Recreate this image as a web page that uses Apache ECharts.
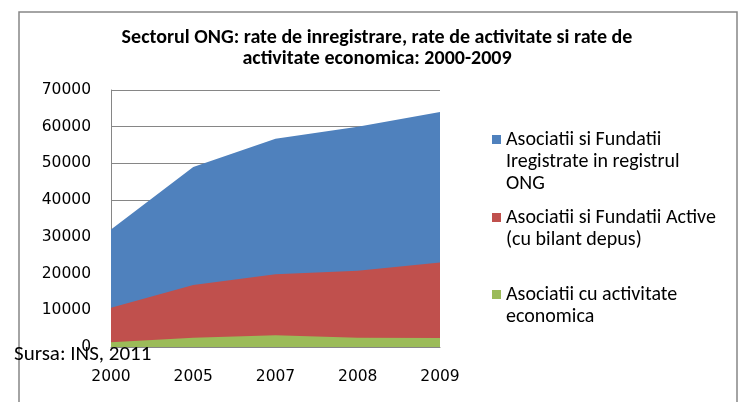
<!DOCTYPE html>
<html>
<head>
<meta charset="utf-8">
<script src="https://cdn.jsdelivr.net/npm/echarts@6/dist/echarts.min.js"></script>
<style>
html, body { margin: 0; padding: 0; background: #fff; }
#main { width: 739px; height: 402px; }
</style>
</head>
<body>
<div id="main"></div>
<script>
// date
var ani = ['2000', '2005', '2007', '2008', '2009'];
var inregistrate = [32000, 49000, 56700, 60000, 64000];
var active = [10700, 16900, 19800, 20800, 23000];
var economice = [1300, 2500, 3200, 2500, 2450];
var numeSerii = [
    'Asociatii si Fundatii\nIregistrate in registrul\nONG',
    'Asociatii si Fundatii Active\n(cu bilant depus)',
    'Asociatii cu activitate\neconomica'
];
var culori = ['#4F81BD', '#C0504D', '#9BBB59'];

var myChart = echarts.init(document.getElementById('main'));

var fontText = 'Carlito, "Liberation Sans", sans-serif';
var fontAxa = '"DejaVu Sans", sans-serif';
var lh = 22;

// o legenda pentru fiecare serie, ca patratul sa stea langa primul rand
function legenda(i, top) {
    var linii = numeSerii[i].split('\n').length;
    var gol = new Array(linii).join('\n');
    return {
        top: top,
        left: 492,
        padding: 0,
        icon: 'rect',
        itemWidth: 9,
        itemHeight: 9,
        itemGap: 0,
        selectedMode: false,
        data: [numeSerii[i]],
        formatter: function (name) {
            return gol + name;
        },
        textStyle: {
            fontFamily: fontText,
            fontSize: 20,
            color: '#000',
            lineHeight: lh
        }
    };
}

function serie(i, valori) {
    return {
        name: numeSerii[i],
        type: 'line',
        data: valori,
        showSymbol: false,
        lineStyle: { width: 0, color: culori[i] },
        itemStyle: { color: culori[i] },
        areaStyle: { color: culori[i], opacity: 1 }
    };
}

var option = {
    animation: false,
    title: {
        text: 'Sectorul ONG: rate de inregistrare, rate de activitate si rate de\nactivitate economica: 2000-2009',
        left: 377,
        textAlign: 'center',
        top: 27,
        padding: 0,
        textStyle: {
            fontFamily: fontText,
            fontSize: 20,
            fontWeight: 'bold',
            color: '#000',
            lineHeight: 21
        }
    },
    legend: [
        legenda(0, 84.5),
        legenda(1, 184.5),
        legenda(2, 261.5)
    ],
    grid: {
        left: 111,
        right: 299,
        top: 90,
        bottom: 55
    },
    xAxis: {
        type: 'category',
        data: ani,
        boundaryGap: false,
        axisLine: { lineStyle: { color: '#868686' } },
        axisTick: { show: false },
        axisLabel: {
            margin: 22,
            fontFamily: fontAxa,
            fontSize: 15.5,
            color: '#000'
        }
    },
    yAxis: {
        type: 'value',
        min: 0,
        max: 70000,
        interval: 10000,
        axisLine: { show: true, lineStyle: { color: '#868686' } },
        axisTick: { show: false },
        axisLabel: {
            margin: 20,
            fontFamily: fontAxa,
            fontSize: 15.5,
            color: '#000',
            formatter: function (v) { return String(v); }
        },
        splitLine: { lineStyle: { color: '#868686' } }
    },
    graphic: [
        {
            type: 'rect',
            shape: { x: 19, y: 12, width: 718, height: 400 },
            style: { fill: 'none', stroke: '#868686', lineWidth: 1.5 },
            z: -1
        },
        {
            type: 'text',
            left: 14,
            top: 344,
            style: {
                text: 'Sursa: INS, 2011',
                font: '21px ' + fontText,
                fill: '#000'
            },
            z: 10
        }
    ],
    series: [
        serie(0, inregistrate),
        serie(1, active),
        serie(2, economice)
    ]
};

myChart.setOption(option);
</script>
</body>
</html>
